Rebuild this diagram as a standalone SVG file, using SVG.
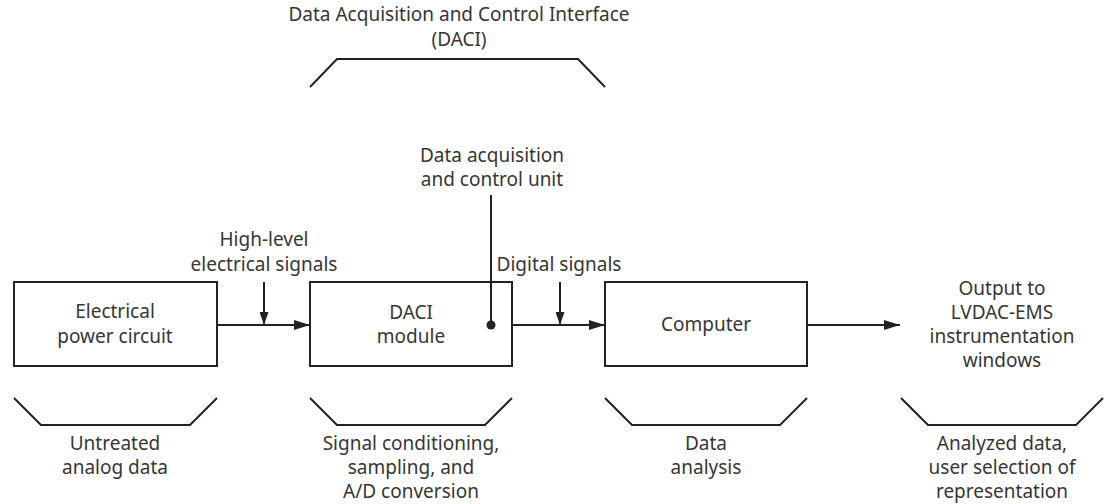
<svg xmlns="http://www.w3.org/2000/svg" width="1105" height="504" viewBox="0 0 1105 504">
<style>
text{font-family:"Noto Sans","DejaVu Sans",sans-serif;font-size:19px;fill:#363636;text-anchor:middle}
.box{fill:#fff;stroke:#222;stroke-width:2}
.ln{fill:none;stroke:#222;stroke-width:2}
.br{fill:none;stroke:#222;stroke-width:2;stroke-linejoin:miter}
</style>
<defs>
<marker id="ah" viewBox="0 0 16 10" refX="16" refY="5" markerWidth="16" markerHeight="10" markerUnits="userSpaceOnUse" orient="auto">
<path d="M0,0 L16,5 L0,10 Z" fill="#222"/>
</marker>
<marker id="ahs" viewBox="0 0 13 9" refX="13" refY="4.5" markerWidth="13" markerHeight="9" markerUnits="userSpaceOnUse" orient="auto">
<path d="M0,0 L13,4.5 L0,9 Z" fill="#222"/>
</marker>
</defs>
<g id="title">
<text x="459" y="21">Data Acquisition and Control Interface</text>
<text x="459" y="46">(DACI)</text>
<path class="br" d="M310,87 L337,59 L578,59 L605,87"/>
</g>
<g id="node-power">
<rect class="box" x="14" y="282" width="203" height="84"/>
<text x="115" y="318">Electrical</text>
<text x="115" y="343">power circuit</text>
</g>
<g id="node-daci">
<rect class="box" x="310" y="282" width="202" height="84"/>
<text x="411" y="319">DACI</text>
<text x="411" y="343">module</text>
</g>
<g id="node-computer">
<rect class="box" x="605" y="282" width="202" height="84"/>
<text x="706" y="331">Computer</text>
</g>
<g id="node-output">
<text x="1002" y="295">Output to</text>
<text x="1002" y="319">LVDAC-EMS</text>
<text x="1002" y="343">instrumentation</text>
<text x="1002" y="367">windows</text>
</g>
<g id="label-daq">
<text x="492" y="162">Data acquisition</text>
<text x="492" y="186">and control unit</text>
</g>
<g id="label-highlevel">
<text x="264" y="246">High-level</text>
<text x="264" y="271">electrical signals</text>
</g>
<g id="label-digital">
<text x="559" y="271">Digital signals</text>
</g>
<g id="connectors">
<line class="ln" x1="217" y1="325" x2="310" y2="325" marker-end="url(#ah)"/>
<line class="ln" x1="264" y1="282" x2="264" y2="325" marker-end="url(#ahs)"/>
<line class="ln" x1="512" y1="325" x2="605" y2="325" marker-end="url(#ah)"/>
<line class="ln" x1="560" y1="282" x2="560" y2="325" marker-end="url(#ahs)"/>
<line class="ln" x1="807" y1="325" x2="900" y2="325" marker-end="url(#ah)"/>
<line class="ln" x1="491" y1="195" x2="491" y2="325"/>
<circle cx="491" cy="325" r="4.5" fill="#222"/>
</g>
<g id="brace-1">
<path class="br" d="M14,398 L41,425 L190,425 L217,398"/>
<text x="115" y="450">Untreated</text>
<text x="115" y="474">analog data</text>
</g>
<g id="brace-2">
<path class="br" d="M310,398 L337,425 L485,425 L512,398"/>
<text x="411" y="450">Signal conditioning,</text>
<text x="411" y="474">sampling, and</text>
<text x="411" y="498">A/D conversion</text>
</g>
<g id="brace-3">
<path class="br" d="M605,398 L632,425 L780,425 L807,398"/>
<text x="706" y="450">Data</text>
<text x="706" y="474">analysis</text>
</g>
<g id="brace-4">
<path class="br" d="M901,398 L928,425 L1076,425 L1103,398"/>
<text x="1002" y="450">Analyzed data,</text>
<text x="1002" y="474">user selection of</text>
<text x="1002" y="498">representation</text>
</g>
</svg>
